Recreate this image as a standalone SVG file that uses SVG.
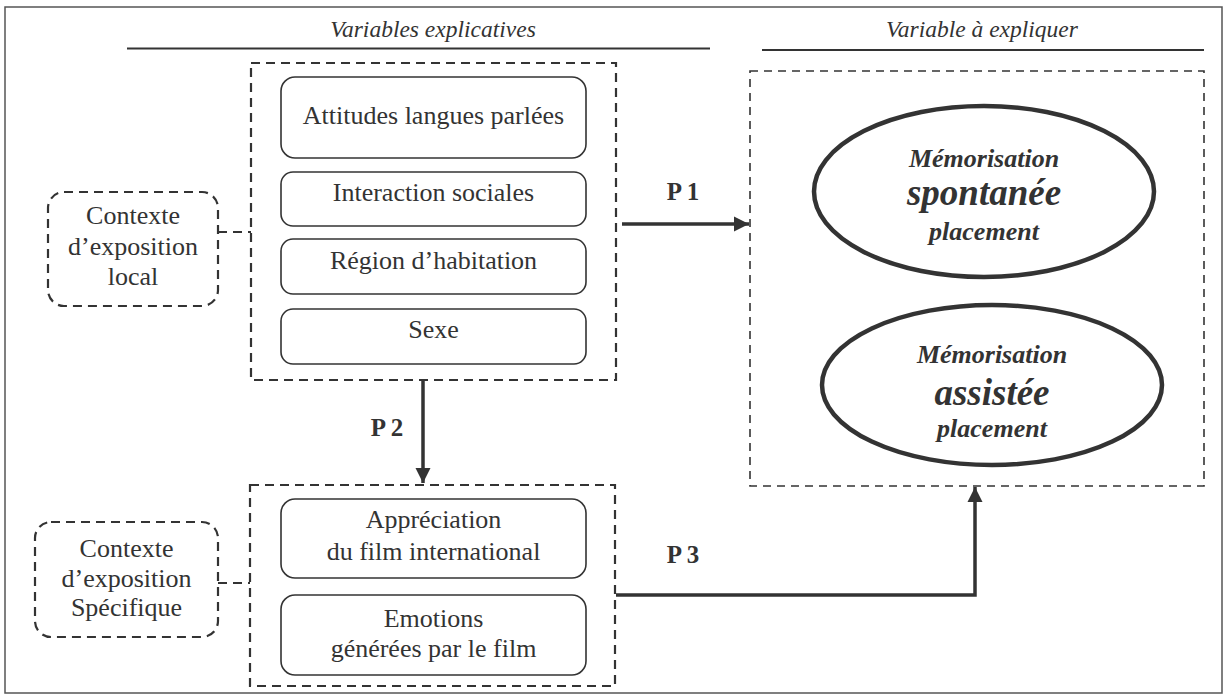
<svg xmlns="http://www.w3.org/2000/svg" width="1227" height="695" viewBox="0 0 1227 695">
<style>
text{font-family:"Liberation Serif","Times New Roman",serif;fill:#333;text-anchor:middle}
.hdr{font-style:italic;font-size:23.5px}
.t{font-size:26px}
.p{font-size:25px;font-weight:bold}
.bi{font-style:italic;font-weight:bold;font-size:26px}
.big{font-style:italic;font-weight:bold;font-size:37px}
.rb{fill:#fff;stroke:#333;stroke-width:1.6}
.dbox{fill:none;stroke:#333;stroke-width:2.2;stroke-dasharray:9 6}
.dthin{fill:none;stroke:#333;stroke-width:1.6;stroke-dasharray:8 6}
.conn{fill:none;stroke:#333;stroke-width:3.5}
.dconn{fill:none;stroke:#333;stroke-width:2.2;stroke-dasharray:9 6}
.ell{fill:#fff;stroke:#333;stroke-width:4.5}
</style>
<defs>
<marker id="ah" viewBox="0 0 10 10" refX="10" refY="5" markerWidth="4.3" markerHeight="4.3" markerUnits="strokeWidth" orient="auto">
<path d="M0,0 L10,5 L0,10 Z" fill="#333"/>
</marker>
</defs>
<rect x="5" y="7" width="1217" height="686" fill="#fff" stroke="#555" stroke-width="1.5"/>
<g id="header-left">
<text class="hdr" x="433" y="37">Variables explicatives</text>
<line x1="127" y1="48.5" x2="710" y2="48.5" stroke="#333" stroke-width="2"/>
</g>
<g id="header-right">
<text class="hdr" x="982" y="37">Variable à expliquer</text>
<line x1="762" y1="50" x2="1204" y2="50" stroke="#333" stroke-width="2"/>
</g>
<g id="connectors">
<path class="dconn" d="M218,232 H251"/>
<path class="dconn" d="M218,583 H250"/>
<path class="conn" d="M622,224 H749" marker-end="url(#ah)"/>
<path class="conn" d="M423,380 V483" marker-end="url(#ah)"/>
<path class="conn" d="M616,595 H975 V487" marker-end="url(#ah)"/>
<text class="p" x="683" y="200">P 1</text>
<text class="p" x="387" y="436">P 2</text>
<text class="p" x="683" y="563">P 3</text>
</g>
<g id="group-local">
<rect class="dbox" x="251" y="63" width="365" height="317"/>
</g>
<g id="attitudes">
<rect class="rb" x="281" y="77" width="305" height="81" rx="14"/>
<text class="t" x="433.5" y="124">Attitudes langues parlées</text>
</g>
<g id="interaction">
<rect class="rb" x="281" y="172" width="305" height="54" rx="12"/>
<text class="t" x="433.5" y="201">Interaction sociales</text>
</g>
<g id="region">
<rect class="rb" x="281" y="239" width="305" height="55" rx="12"/>
<text class="t" x="433.5" y="269">Région d’habitation</text>
</g>
<g id="sexe">
<rect class="rb" x="281" y="309" width="305" height="55" rx="12"/>
<text class="t" x="433.5" y="338">Sexe</text>
</g>
<g id="contexte-local">
<rect class="dbox" x="48" y="192" width="170" height="114" rx="16"/>
<text class="t" x="133" y="224">Contexte</text>
<text class="t" x="133" y="255">d’exposition</text>
<text class="t" x="133" y="285">local</text>
</g>
<g id="group-specifique">
<rect class="dbox" x="250" y="485" width="365" height="201"/>
</g>
<g id="appreciation">
<rect class="rb" x="281" y="499" width="305" height="79" rx="14"/>
<text class="t" x="433.5" y="528">Appréciation</text>
<text class="t" x="433.5" y="560">du film international</text>
</g>
<g id="emotions">
<rect class="rb" x="281" y="595" width="305" height="80" rx="14"/>
<text class="t" x="433.5" y="627">Emotions</text>
<text class="t" x="433.5" y="657">générées par le film</text>
</g>
<g id="contexte-specifique">
<rect class="dbox" x="35" y="522" width="183" height="115" rx="16"/>
<text class="t" x="126.5" y="557">Contexte</text>
<text class="t" x="126.5" y="587">d’exposition</text>
<text class="t" x="126.5" y="616">Spécifique</text>
</g>
<g id="variable-expliquer">
<rect class="dthin" x="750" y="71" width="454" height="415"/>
</g>
<g id="memo-spontanee">
<ellipse class="ell" cx="984" cy="191.5" rx="170" ry="85.5"/>
<text class="bi" x="984" y="167">Mémorisation</text>
<text class="big" x="984" y="205">spontanée</text>
<text class="bi" x="984" y="240">placement</text>
</g>
<g id="memo-assistee">
<ellipse class="ell" cx="992" cy="385" rx="170" ry="80"/>
<text class="bi" x="992" y="363">Mémorisation</text>
<text class="big" x="992" y="405">assistée</text>
<text class="bi" x="992" y="437">placement</text>
</g>
</svg>
